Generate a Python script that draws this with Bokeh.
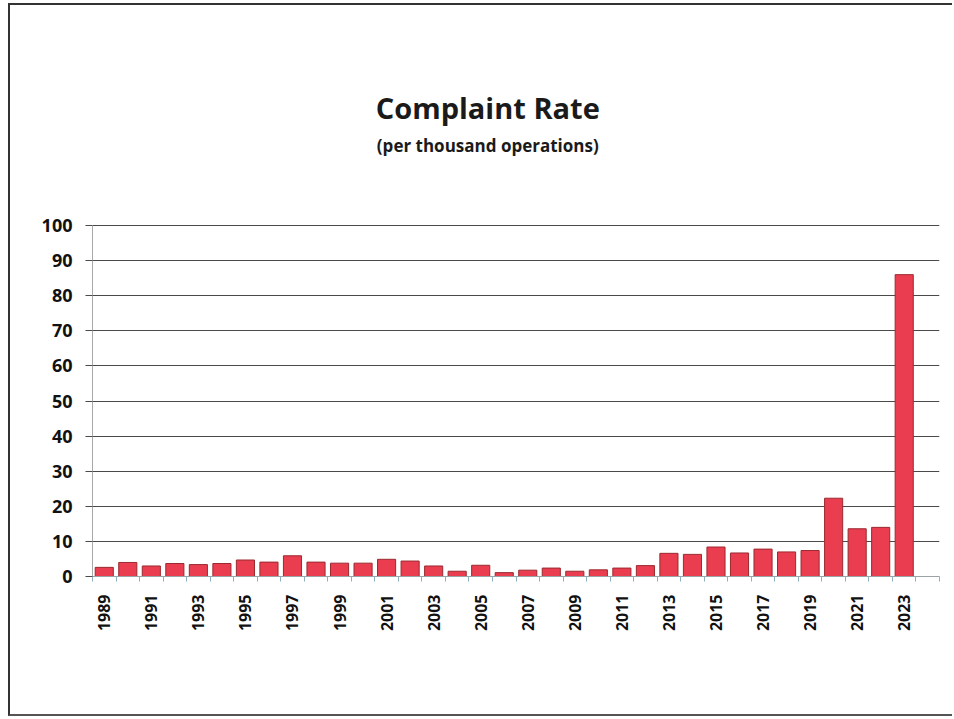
import math
from bokeh.plotting import figure
from bokeh.models import FixedTicker, Range1d, Label
from bokeh.embed import file_html
from bokeh.resources import INLINE

years = list(range(1989, 2024))
rates = [2.6, 4.0, 3.0, 3.7, 3.4, 3.7, 4.7, 4.1, 5.9, 4.1, 3.8, 3.8,
         4.9, 4.4, 3.0, 1.5, 3.2, 1.1, 1.8, 2.4, 1.5, 1.9, 2.4, 3.1,
         6.6, 6.3, 8.4, 6.7, 7.8, 7.0, 7.4, 22.3, 13.6, 14.0, 86.0]
y_ticks = [0, 10, 20, 30, 40, 50, 60, 70, 80, 90, 100]
label_years = [y for y in years if y % 2 == 1]
title_text = "Complaint Rate"
subtitle_text = "(per thousand operations)"

W, H = 944, 713
FL, MBR, MBT, MBB = 82, 15, 21, 142
Y_TOP = 156.7

p = figure(width=W, height=H, output_backend="svg", toolbar_location=None,
           x_range=Range1d(1988.5, 2024.5), y_range=Range1d(0, Y_TOP),
           min_border_left=FL, min_border_right=MBR,
           min_border_top=MBT, min_border_bottom=MBB)
p.styles = {"margin-left": "8px", "margin-top": "3px",
            "border-left": "2px solid #333", "border-top": "2px solid #333",
            "border-bottom": "2px solid #555", "box-sizing": "border-box"}
p.outline_line_color = None
p.background_fill_color = "white"
p.border_fill_color = "white"

p.vbar(x=years, top=rates, width=0.77, fill_color="#EA3D50",
       line_color="#9A2A30", line_width=1)

# y axis
p.yaxis.ticker = FixedTicker(ticks=y_ticks)
p.yaxis.bounds = (0, 100)
p.yaxis.axis_line_color = "#A8A8A8"
p.yaxis.major_tick_line_color = "#4A4A4A"
p.yaxis.major_tick_out = 7
p.yaxis.major_tick_in = 0
p.yaxis.minor_tick_line_color = None
p.yaxis.major_label_text_font = "Open Sans"
p.yaxis.major_label_text_font_style = "bold"
p.yaxis.major_label_text_font_size = "18px"
p.yaxis.major_label_text_color = "#111111"
p.yaxis.major_label_standoff = 13

# x axis
p.xaxis.ticker = FixedTicker(ticks=label_years,
                             minor_ticks=[y - 0.5 for y in years] + [2023.5, 2024.5])
p.xaxis.axis_line_color = "#9AA4A8"
p.xaxis.major_tick_line_color = None
p.xaxis.major_tick_out = 0
p.xaxis.major_tick_in = 0
p.xaxis.minor_tick_line_color = "#8FB0C0"
p.xaxis.minor_tick_out = 5
p.xaxis.minor_tick_in = 0
p.xaxis.major_label_orientation = math.pi / 2
p.xaxis.major_label_text_font = "Open Sans"
p.xaxis.major_label_text_font_style = "bold"
p.xaxis.major_label_text_font_size = "16px"
p.xaxis.major_label_text_color = "#111111"
p.xaxis.major_label_standoff = 13

p.xgrid.grid_line_color = None
p.ygrid.ticker = FixedTicker(ticks=y_ticks)
p.ygrid.grid_line_color = "#4A4A4A"
p.ygrid.grid_line_width = 1

p.add_layout(Label(x=2005.3, y=133.6, text=title_text,
                   text_align="center", text_baseline="middle",
                   text_font="Open Sans", text_font_style="bold",
                   text_font_size="29px", text_color="#1a1a1a"))
p.add_layout(Label(x=2005.3, y=122.8, text=subtitle_text,
                   text_align="center", text_baseline="middle",
                   text_font="Open Sans", text_font_style="bold",
                   text_font_size="17px", text_color="#1a1a1a"))

open("out.html", "w").write(file_html(p, INLINE))
